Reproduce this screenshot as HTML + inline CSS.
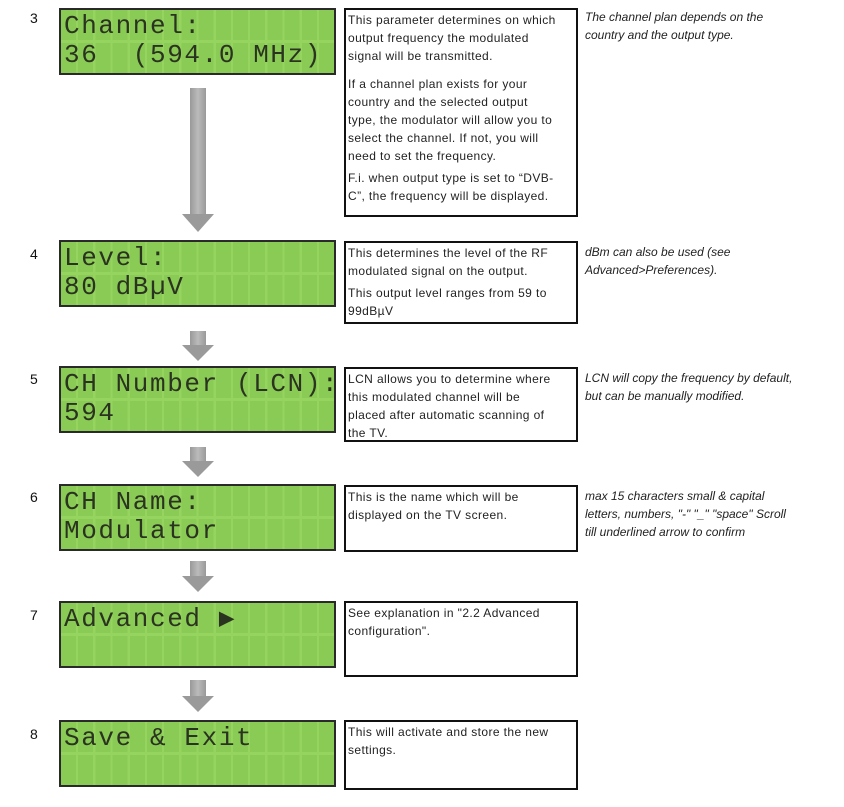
<!DOCTYPE html>
<html><head><style>
body{margin:0;width:844px;height:807px;background:#fff;position:relative;font-family:"Liberation Sans",sans-serif;overflow:hidden}
.n{position:absolute;left:30px;font-size:14px;color:#111}
.lcd{position:absolute;left:59px;width:273px;height:63px;border:2px solid #2a2a2a;background:#95d45e;
background-image:repeating-linear-gradient(90deg,#8acb55 0 15px,#95d45e 15px 17.2px);}
.lcd:before{content:"";position:absolute;left:0;right:0;top:30px;height:3px;background:#95d45e}
.lcd pre{margin:0;position:absolute;left:3px;top:2px;font-family:"Liberation Mono",monospace;font-size:26px;line-height:29px;letter-spacing:1.6px;color:#2a3320;white-space:pre}
.box{position:absolute;left:344px;width:226px;border:2.5px solid #111;padding:1px 2px;font-size:12px;line-height:18px;color:#222;letter-spacing:0.4px;white-space:nowrap}
.box p{margin:0 0 4px}
.note{position:absolute;left:585px;font-size:12px;line-height:18px;font-style:italic;color:#222;white-space:nowrap}
.arr{position:absolute;left:182px;width:32px}
.arr .s{position:absolute;left:8px;width:16px;top:0;background:linear-gradient(90deg,#999,#bbb,#999)}
.arr .h{position:absolute;left:0;width:0;height:0;border-left:16px solid transparent;border-right:16px solid transparent;border-top:16px solid #9a9a9a}
</style></head><body>
<div class="n" style="top:10px">3</div>
<div class="lcd" style="top:8px"><pre>Channel:
36  (594.0 MHz)</pre></div>
<div class="box" style="top:8px;height:203px"><p>This parameter determines on which<br>output frequency the modulated<br>signal will be transmitted.</p><p style="margin-top:10px">If a channel plan exists for your<br>country and the selected output<br>type, the modulator will allow you to<br>select the channel. If not, you will<br>need to set the frequency.</p><p>F.i. when output type is set to “DVB-<br>C”, the frequency will be displayed.</p></div>
<div class="note" style="top:8px">The channel plan depends on the<br>country and the output type.</div>
<div class="arr" style="top:88px"><div class="s" style="height:126px"></div><div class="h" style="top:126px;border-top-width:18px"></div></div>

<div class="n" style="top:246px">4</div>
<div class="lcd" style="top:240px"><pre>Level:
80 dBµV</pre></div>
<div class="box" style="top:241px;height:77px"><p>This determines the level of the RF<br>modulated signal on the output.</p><p>This output level ranges from 59 to<br>99dBµV</p></div>
<div class="note" style="top:243px">dBm can also be used (see<br>Advanced&gt;Preferences).</div>
<div class="arr" style="top:331px"><div class="s" style="height:14px"></div><div class="h" style="top:14px"></div></div>

<div class="n" style="top:371px">5</div>
<div class="lcd" style="top:366px"><pre>CH Number (LCN):
594</pre></div>
<div class="box" style="top:367px;height:69px">LCN allows you to determine where<br>this modulated channel will be<br>placed after automatic scanning of<br>the TV.</div>
<div class="note" style="top:369px">LCN will copy the frequency by default,<br>but can be manually modified.</div>
<div class="arr" style="top:447px"><div class="s" style="height:14px"></div><div class="h" style="top:14px"></div></div>

<div class="n" style="top:489px">6</div>
<div class="lcd" style="top:484px"><pre>CH Name:
Modulator</pre></div>
<div class="box" style="top:485px;height:61px">This is the name which will be<br>displayed on the TV screen.</div>
<div class="note" style="top:487px">max 15 characters small &amp; capital<br>letters, numbers, "-" "_" "space" Scroll<br>till underlined arrow to confirm</div>
<div class="arr" style="top:561px"><div class="s" style="height:15px"></div><div class="h" style="top:15px"></div></div>

<div class="n" style="top:607px">7</div>
<div class="lcd" style="top:601px"><pre>Advanced ▶</pre></div>
<div class="box" style="top:601px;height:70px">See explanation in "2.2 Advanced<br>configuration".</div>
<div class="arr" style="top:680px"><div class="s" style="height:16px"></div><div class="h" style="top:16px"></div></div>

<div class="n" style="top:726px">8</div>
<div class="lcd" style="top:720px"><pre>Save &amp; Exit</pre></div>
<div class="box" style="top:720px;height:64px">This will activate and store the new<br>settings.</div>
</body></html>
